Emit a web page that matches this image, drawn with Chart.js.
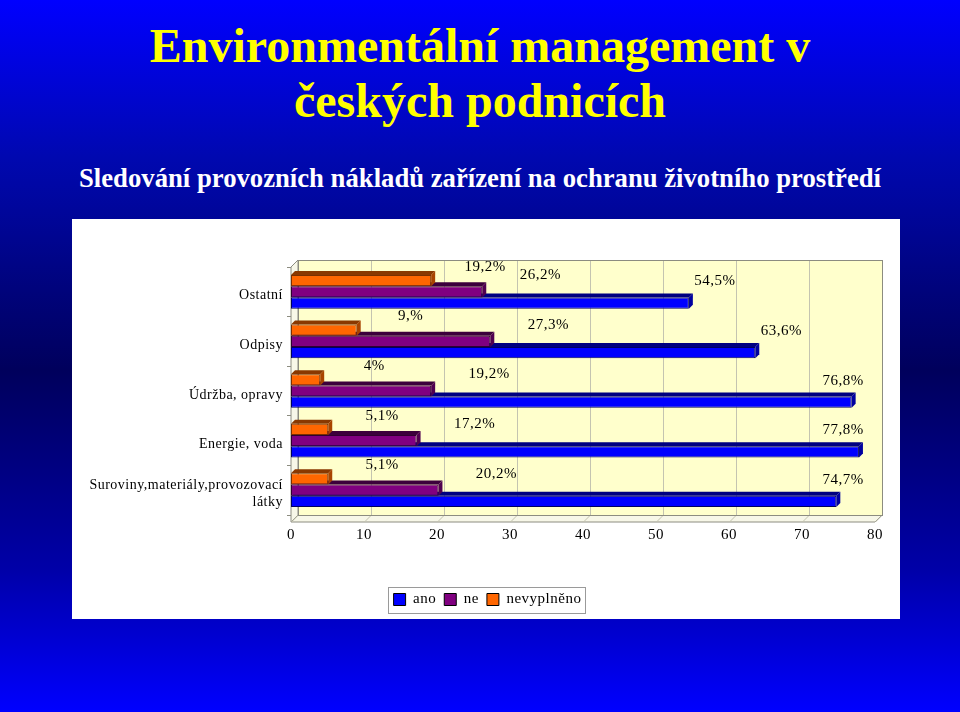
<!DOCTYPE html>
<html>
<head>
<meta charset="utf-8">
<script src="https://cdn.jsdelivr.net/npm/chart.js@4.4.1/dist/chart.umd.min.js"></script>
<style>
    html, body { margin: 0; padding: 0; }
    body {
        width: 960px; height: 712px; overflow: hidden; position: relative;
        background: linear-gradient(to bottom, #0000ff 0%, #0008b0 22%, #00005c 52%, #0000a8 80%, #0000ff 100%);
        font-family: "Liberation Serif", "Times New Roman", serif;
    }
    .title {
        position: absolute; left: 0; width: 960px; text-align: center;
        color: #ffff00; font-weight: bold; font-size: 48px; line-height: 48px; white-space: nowrap;
    }
    .subtitle {
        position: absolute; left: 0; top: 164px; width: 960px; text-align: center;
        color: #ffffff; font-weight: bold; font-size: 26.7px; line-height: 28px; white-space: nowrap;
    }
    #panel { position: absolute; left: 72px; top: 219px; width: 828px; height: 400px; background: #ffffff; }
</style>
</head>
<body>
<div class="title" style="top:22px">Environmentální management v</div>
<div class="title" style="top:77px">českých podnicích</div>
<div class="subtitle">Sledování provozních nákladů zařízení na ochranu životního prostředí</div>
<div id="panel"><canvas id="chart" width="828" height="400"></canvas></div>
<script>
// Chart values (top category first)
const categories = ['Ostatní', 'Odpisy', 'Údržba, opravy', 'Energie, voda', ['Suroviny,materiály,provozovací', 'látky']];
const anoValues = [54.5, 63.6, 76.8, 77.8, 74.7];
const neValues = [26.2, 27.3, 19.2, 17.2, 20.2];
const nevyplnenoValues = [19.2, 9, 4, 5.1, 5.1];
const anoLabels = ['54,5%', '63,6%', '76,8%', '77,8%', '74,7%'];
const neLabels = ['26,2%', '27,3%', '19,2%', '17,2%', '20,2%'];
const nevyplnenoLabels = ['19,2%', '9,%', '4%', '5,1%', '5,1%'];
const xTicks = [0, 10, 20, 30, 40, 50, 60, 70, 80];

const DEPTH = 7;      // 3D depth of the plot walls
const BAR_DEPTH = 4;  // 3D depth of the bars
const serif = '"Liberation Serif", "Times New Roman", serif';

// The old slide renders its chart text slightly spaced out
const spacingPlugin = {
    id: 'letterSpacing',
    beforeUpdate(chart) { chart.ctx.letterSpacing = '0.5px'; },
    beforeDraw(chart) { chart.ctx.letterSpacing = '0.5px'; },
    afterLayout(chart) {
        // nudge the legend so its frame sits centred under the panel
        chart.legend.left += 14;
        chart.legend.right += 14;
    }
};

// Back wall, side wall, floor and grid drawn behind the bars
const wallPlugin = {
    id: 'walls',
    beforeDatasetsDraw(chart) {
        const { ctx, chartArea: a, scales } = chart;
        const d = DEPTH;
        ctx.save();
        ctx.lineWidth = 1;
        // left side wall
        ctx.fillStyle = '#f7f7e8';
        ctx.strokeStyle = '#8c8c80';
        ctx.beginPath();
        ctx.moveTo(a.left, a.top); ctx.lineTo(a.left + d, a.top - d);
        ctx.lineTo(a.left + d, a.bottom); ctx.lineTo(a.left, a.bottom + d);
        ctx.closePath(); ctx.fill(); ctx.stroke();
        // floor
        ctx.beginPath();
        ctx.moveTo(a.left, a.bottom + d); ctx.lineTo(a.left + d, a.bottom);
        ctx.lineTo(a.right + d, a.bottom); ctx.lineTo(a.right, a.bottom + d);
        ctx.closePath(); ctx.fill(); ctx.stroke();
        // back wall
        ctx.fillStyle = '#ffffcc';
        ctx.fillRect(a.left + d, a.top - d, a.right - a.left, a.bottom - a.top + d);
        // grid lines
        ctx.strokeStyle = '#c4c4b0';
        xTicks.forEach(t => {
            const x = Math.round(scales.x.getPixelForValue(t)) + 0.5;
            ctx.beginPath();
            ctx.moveTo(x + d, a.top - d); ctx.lineTo(x + d, a.bottom); ctx.lineTo(x, a.bottom + d);
            ctx.stroke();
        });
        ctx.strokeStyle = '#8c8c80';
        ctx.strokeRect(a.left + d + 0.5, a.top - d + 0.5, a.right - a.left, a.bottom - a.top + d);
        ctx.restore();
    }
};

// Top and right faces of each bar, drawn right after its dataset
const barFacePlugin = {
    id: 'barFaces',
    afterDatasetDraw(chart, args) {
        const { ctx } = chart;
        const ds = chart.data.datasets[args.index];
        const d = BAR_DEPTH;
        ctx.save();
        args.meta.data.forEach(bar => {
            const top = bar.y - bar.height / 2;
            const bottom = bar.y + bar.height / 2;
            ctx.fillStyle = ds.topColor;
            ctx.beginPath();
            ctx.moveTo(bar.base, top); ctx.lineTo(bar.base + d, top - d);
            ctx.lineTo(bar.x + d, top - d); ctx.lineTo(bar.x, top);
            ctx.closePath(); ctx.fill();
            ctx.fillStyle = ds.sideColor;
            ctx.beginPath();
            ctx.moveTo(bar.x, top); ctx.lineTo(bar.x + d, top - d);
            ctx.lineTo(bar.x + d, bottom - d); ctx.lineTo(bar.x, bottom);
            ctx.closePath(); ctx.fill();
        });
        ctx.restore();
    }
};

// Value labels above the bar ends
const valueLabelPlugin = {
    id: 'valueLabels',
    afterDatasetsDraw(chart) {
        const { ctx, chartArea: a } = chart;
        ctx.save();
        ctx.font = '15px ' + serif;
        ctx.fillStyle = '#000';
        ctx.textAlign = 'center';
        ctx.textBaseline = 'middle';
        chart.data.datasets.forEach((ds, i) => {
            chart.getDatasetMeta(i).data.forEach((bar, j) => {
                const x = Math.min(bar.x + ds.labelShift, a.right - 32);
                const y = bar.y - bar.height / 2 - ds.labelRise;
                ctx.fillText(ds.valueLabels[j], x, y);
            });
        });
        ctx.restore();
    }
};

// Frame around the legend
const legendFramePlugin = {
    id: 'legendFrame',
    afterDraw(chart) {
        const boxes = chart.legend.legendHitBoxes;
        if (!boxes.length) return;
        const { ctx } = chart;
        const left = Math.min(...boxes.map(b => b.left)) - 6;
        const right = Math.max(...boxes.map(b => b.left + b.width)) + 3;
        const top = boxes[0].top - 5;
        const bottom = boxes[0].top + boxes[0].height + 6;
        ctx.save();
        ctx.strokeStyle = '#9a9a9a';
        ctx.lineWidth = 1;
        ctx.strokeRect(Math.round(left) + 0.5, Math.round(top) + 0.5, Math.round(right - left), Math.round(bottom - top));
        ctx.restore();
    }
};

new Chart(document.getElementById('chart'), {
    type: 'bar',
    data: {
        labels: categories,
        datasets: [
            {
                label: 'nevyplněno', data: nevyplnenoValues, valueLabels: nevyplnenoLabels,
                backgroundColor: '#ff6600', borderColor: '#7a3000', topColor: '#8a3800', sideColor: '#a84400',
                labelShift: 54, labelRise: 8
            },
            {
                label: 'ne', data: neValues, valueLabels: neLabels,
                backgroundColor: '#800080', borderColor: '#300030', topColor: '#3c003c', sideColor: '#500050',
                labelShift: 58, labelRise: 11
            },
            {
                label: 'ano', data: anoValues, valueLabels: anoLabels,
                backgroundColor: '#0000ff', borderColor: '#000060', topColor: '#000080', sideColor: '#0000a0',
                labelShift: 26, labelRise: 16
            }
        ]
    },
    options: {
        indexAxis: 'y',
        responsive: false,
        animation: false,
        layout: { padding: { top: 48, right: 25, left: 0, bottom: 2 } },
        datasets: {
            bar: { categoryPercentage: 0.68, barPercentage: 1, borderWidth: 1, borderSkipped: false }
        },
        scales: {
            x: {
                min: 0, max: 80,
                afterFit: scale => { scale.height = 69; },
                afterBuildTicks: scale => { scale.ticks = xTicks.map(v => ({ value: v })); },
                grid: { display: false, drawTicks: false },
                border: { display: false },
                ticks: { color: '#000', padding: 11, font: { family: serif, size: 15 } }
            },
            y: {
                afterFit: scale => { scale.width = 219; },
                grid: { drawOnChartArea: false, tickLength: 4, color: '#8c8c80' },
                border: { display: false },
                ticks: { color: '#000', padding: 4, labelOffset: 4, font: { family: serif, size: 14 } }
            }
        },
        plugins: {
            legend: {
                position: 'bottom',
                reverse: true,
                labels: {
                    color: '#000', boxWidth: 12, boxHeight: 12, padding: 8,
                    font: { family: serif, size: 15 },
                    generateLabels: chart => Chart.defaults.plugins.legend.labels.generateLabels(chart)
                        .map(l => Object.assign(l, { strokeStyle: '#000', lineWidth: 1 }))
                }
            },
            tooltip: { enabled: false }
        }
    },
    plugins: [spacingPlugin, wallPlugin, barFacePlugin, valueLabelPlugin, legendFramePlugin]
});
</script>
</body>
</html>
